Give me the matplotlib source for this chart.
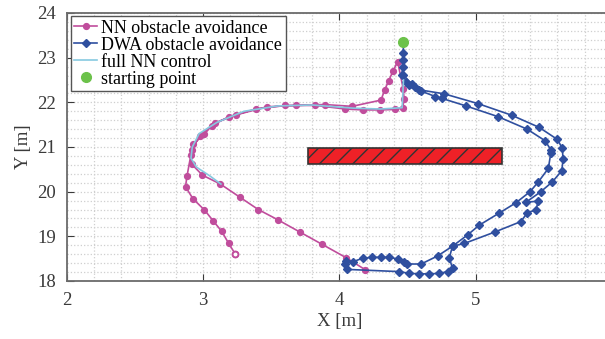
# trajectories around the obstacle: NN vs DWA avoidance
import numpy as np
import matplotlib.pyplot as plt
from matplotlib.patches import Rectangle
from matplotlib.ticker import MultipleLocator

plt.rcParams['font.family'] = ['Liberation Serif', 'DejaVu Serif']

# NN obstacle avoidance path
nn_x = [4.19, 4.05, 3.873, 3.707, 3.548, 3.404, 3.267, 3.126, 2.994, 2.914,
        2.911, 2.925, 3.006, 3.064, 3.189, 3.385, 3.602, 3.822, 4.044, 4.171,
        4.298, 4.410, 4.464, 4.474, 4.469,
        4.427, 4.393, 4.361, 4.332, 4.305,
        4.093, 3.892, 3.683, 3.467, 3.243, 3.084, 2.974, 2.916, 2.881, 2.870,
        2.925, 3.009, 3.075, 3.136, 3.187, 3.236]
nn_y = [18.25, 18.52, 18.82, 19.10, 19.37, 19.60, 19.88, 20.17, 20.37, 20.62,
        20.82, 21.06, 21.28, 21.48, 21.68, 21.85, 21.93, 21.93, 21.85, 21.83,
        21.83, 21.84, 21.87, 22.07, 22.29,
        22.91, 22.70, 22.48, 22.28, 22.05,
        21.91, 21.95, 21.93, 21.90, 21.72, 21.54, 21.25, 20.93, 20.35, 20.11,
        19.84, 19.59, 19.34, 19.11, 18.84, 18.60]

# DWA obstacle avoidance path
dwa_x = [4.469, 4.469, 4.469, 4.464, 4.459, 4.489, 4.513, 4.557, 4.586,
         4.769, 5.018, 5.265, 5.465, 5.599, 5.636, 5.641, 5.632, 5.563, 5.478,
         5.368, 5.460, 5.441, 5.380, 5.331, 5.143, 4.916, 4.830, 4.806, 4.830,
         4.793, 4.733, 4.659, 4.586, 4.513, 4.440, 4.053,
         4.037, 4.051, 4.097, 4.171, 4.240, 4.305, 4.366, 4.427, 4.476, 4.493,
         4.599, 4.720, 4.830, 4.940, 5.026, 5.172, 5.295, 5.399, 5.460, 5.533,
         5.551, 5.553, 5.509, 5.377, 5.163, 4.928, 4.750, 4.703, 4.601, 4.530,
         4.469]
dwa_y = [23.36, 23.10, 22.95, 22.80, 22.61, 22.46, 22.39, 22.35, 22.28,
         22.19, 21.97, 21.71, 21.44, 21.17, 20.97, 20.72, 20.47, 20.22, 20.00,
         19.76, 19.79, 19.59, 19.53, 19.33, 19.10, 18.84, 18.78, 18.52, 18.28,
         18.21, 18.17, 18.16, 18.16, 18.17, 18.21, 18.26,
         18.38, 18.45, 18.43, 18.51, 18.53, 18.53, 18.53, 18.49, 18.43, 18.38,
         18.38, 18.56, 18.78, 19.03, 19.25, 19.52, 19.75, 20.00, 20.22, 20.52,
         20.86, 20.93, 21.14, 21.40, 21.68, 21.92, 22.09, 22.13, 22.25, 22.41,
         22.61]

# full NN control (no obstacle)
full_x = [4.47, 4.46, 4.30, 4.10, 3.80, 3.55, 3.30, 3.10, 2.97, 2.92,
          2.91, 2.95, 3.05, 3.13]
full_y = [22.50, 21.88, 21.85, 21.87, 21.94, 21.92, 21.80, 21.55, 21.30, 21.00,
          20.75, 20.55, 20.35, 20.17]

start_pt = (4.469, 23.36)
obstacle = (3.77, 20.61, 5.19, 20.97)  # x0, y0, x1, y1

x_ticks = [2, 3, 4, 5, 6]
x_tick_labels = ['2', '3', '4', '5', '']  # 6 falls off the cropped figure

nn_col = '#c04d9c'
dwa_col = '#2f4f9f'
full_col = '#86c9e0'

fig = plt.figure(figsize=(6.05, 3.39), dpi=100)
ax = fig.add_axes([0.1107, 0.1711, 0.9008, 0.7906])

# obstacle box
ax.add_patch(Rectangle((obstacle[0], obstacle[1]),
                       obstacle[2] - obstacle[0],
                       obstacle[3] - obstacle[1],
                       facecolor='#ee2127', edgecolor='#333333',
                       hatch='//', linewidth=1.2, zorder=2))

ax.plot(nn_x, nn_y, '-o', color=nn_col, markersize=4.2, linewidth=1.2,
        label='NN obstacle avoidance', zorder=3)
ax.plot(nn_x[-1], nn_y[-1], 'o', color=nn_col, markerfacecolor='white',
        markersize=4.2, markeredgewidth=1.4, zorder=4)
ax.plot(dwa_x, dwa_y, '-D', color=dwa_col, markersize=4, linewidth=1.2,
        label='DWA obstacle avoidance', zorder=3)
ax.plot(full_x, full_y, '-', color=full_col, linewidth=1.2,
        label='full NN control', zorder=4)
ax.plot(start_pt[0], start_pt[1], 'o', color='#6cc24a', markersize=7,
        linestyle='none', label='starting point', zorder=5)

ax.set_xlim(2, 6)
ax.set_ylim(18, 24)
ax.set_xticks(x_ticks, x_tick_labels)
ax.yaxis.set_major_locator(MultipleLocator(1))
ax.xaxis.set_minor_locator(MultipleLocator(0.2))
ax.yaxis.set_minor_locator(MultipleLocator(0.2))
ax.grid(which='both', linestyle=':', color='#cfcfcf', linewidth=0.9)
ax.set_axisbelow(True)
ax.tick_params(which='major', direction='in', length=5, top=True, right=True,
               labelsize=13.5, colors='#3a3a3a', pad=8)
ax.tick_params(which='minor', length=0)
for sp in ax.spines.values():
    sp.set_color('#6b6b6b')
    sp.set_linewidth(1.3)

ax.set_xlabel('X [m]', fontsize=13.5, color='#3a3a3a', labelpad=3)
ax.set_ylabel('Y [m]', fontsize=13.5, color='#3a3a3a', labelpad=4)

leg = ax.legend(loc='upper left', bbox_to_anchor=(0.007, 0.989),
                borderaxespad=0, fontsize=13, handlelength=1.25,
                handletextpad=0.25, labelspacing=0.0, borderpad=0.2,
                fancybox=False, framealpha=1)
leg.get_frame().set_edgecolor('#555555')
leg.get_frame().set_linewidth(1.0)

fig.savefig('out.png', dpi=100)
